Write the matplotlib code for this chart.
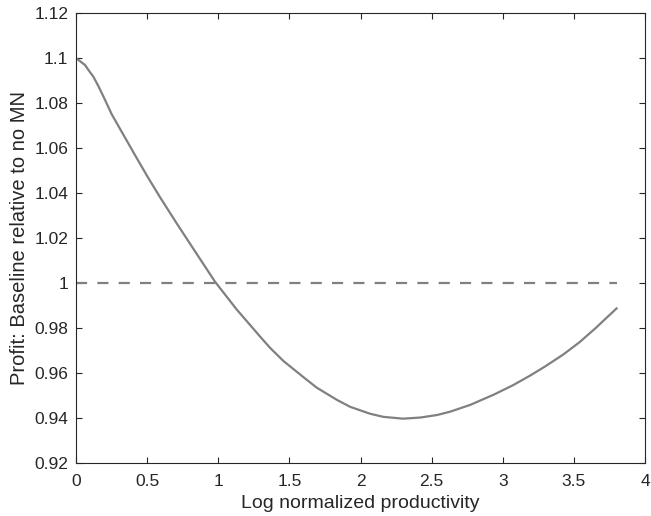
import matplotlib
matplotlib.use("Agg")
import matplotlib.pyplot as plt
from matplotlib.ticker import FixedLocator

plt.rcParams['font.family'] = ['Liberation Sans', 'DejaVu Sans']

log_prod = [0.0, 0.03, 0.063, 0.095, 0.122, 0.155, 0.192, 0.251, 0.333, 0.427, 0.509,
            0.590, 0.708, 0.825, 0.977, 1.130, 1.305, 1.364, 1.457, 1.598, 1.692,
            1.833, 1.926, 2.067, 2.161, 2.30, 2.42, 2.536, 2.63, 2.770, 2.934,
            3.07, 3.191, 3.30, 3.425, 3.54, 3.65, 3.80]
profit_ratio = [1.1000, 1.0985, 1.0969, 1.0940, 1.0917, 1.0878, 1.0830, 1.0750, 1.0659,
                1.0555, 1.0466, 1.0382, 1.0265, 1.0152, 1.0006, 0.9882, 0.9754, 0.9712,
                0.9654, 0.9582, 0.9535, 0.9481, 0.9450, 0.9419, 0.9405, 0.9397, 0.9402,
                0.9413, 0.9428, 0.9458, 0.9503, 0.9545, 0.9588, 0.9630, 0.9682, 0.9737,
                0.9798, 0.9887]
baseline_x = [0.0, 3.8]
baseline_y = [1.0, 1.0]

xticks = [0, 0.5, 1, 1.5, 2, 2.5, 3, 3.5, 4]
xtick_labels = ['0', '0.5', '1', '1.5', '2', '2.5', '3', '3.5', '4']
yticks = [0.92, 0.94, 0.96, 0.98, 1.00, 1.02, 1.04, 1.06, 1.08, 1.10, 1.12]
ytick_labels = ['0.92', '0.94', '0.96', '0.98', '1', '1.02', '1.04', '1.06', '1.08', '1.1', '1.12']

fig = plt.figure(figsize=(6.51, 5.16), dpi=100)
ax = fig.add_axes([76/651, 53/516, 569/651, 450/516])

gray = '#808080'
ax.plot(log_prod, profit_ratio, color=gray, lw=1.6, solid_joinstyle='round')
ax.plot(baseline_x, baseline_y, color=gray, lw=1.6, linestyle=(0, (5.0, 4.6)))

ax.set_xlim(0, 4)
ax.set_ylim(0.92, 1.12)
ax.xaxis.set_major_locator(FixedLocator(xticks))
ax.set_xticklabels(xtick_labels)
ax.yaxis.set_major_locator(FixedLocator(yticks))
ax.set_yticklabels(ytick_labels)

ax.tick_params(direction='in', length=4.5, width=0.8, top=True, right=True,
               labelsize=12.5, colors='#262626')
ax.tick_params(axis='x', pad=8)
ax.tick_params(axis='y', pad=5.5)
for s in ax.spines.values():
    s.set_linewidth(0.8)
    s.set_color('#262626')

ax.set_xlabel('Log normalized productivity', fontsize=14, color='#262626', labelpad=4)
ax.set_ylabel('Profit: Baseline relative to no MN', fontsize=14.5, color='#262626', labelpad=4)

fig.savefig('out.png', dpi=100)
